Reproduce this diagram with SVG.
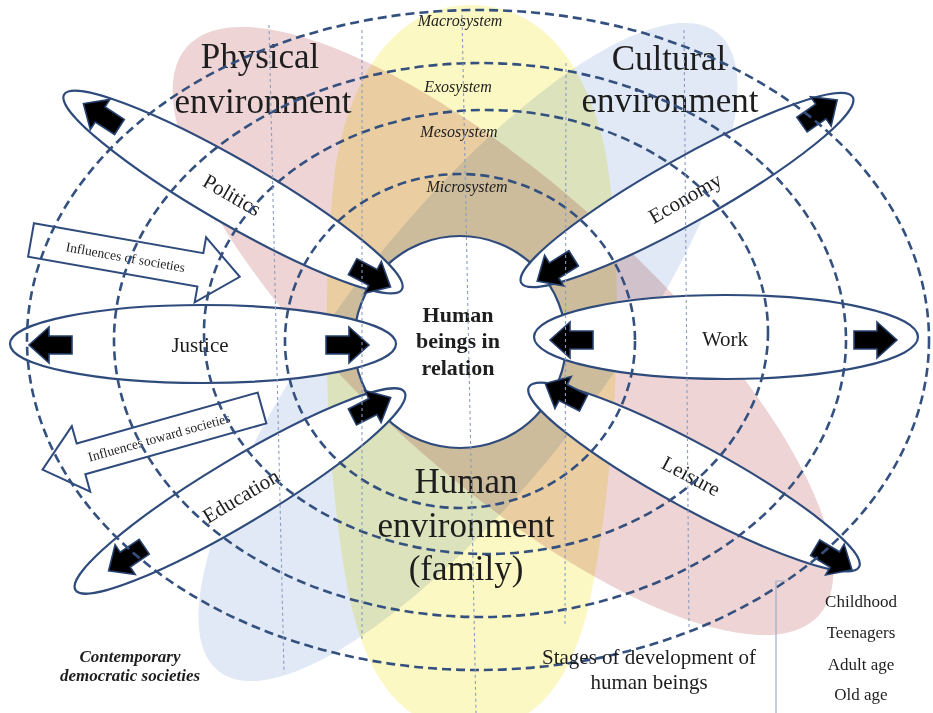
<svg xmlns="http://www.w3.org/2000/svg" width="933" height="713" viewBox="0 0 933 713">
<defs>
<style>
.blob{mix-blend-mode:multiply}
.oval{fill:#fff;stroke:#2f4b7c;stroke-width:2.2}
.sys{fill:none;stroke:#34507f;stroke-width:2.6;stroke-dasharray:9 5}
.dot{fill:none;stroke:#8a9cc0;stroke-width:1.1;stroke-dasharray:3 3}
.infl{fill:#fff;stroke:#2f4b7c;stroke-width:2}
.t{font-family:"Liberation Serif","Times New Roman",serif;fill:#1e1e1e}
.lbl{font-size:21px;text-anchor:middle}
.env{font-size:35px;text-anchor:middle}
.syslbl{font-size:16px;font-style:italic;text-anchor:middle}
.leg{font-size:17px;text-anchor:middle}
</style>
<path id="ba" d="M -22 -9 H 1 V -18 L 21 0 L 1 18 V 9 H -22 Z" fill="#000" stroke="#27426f" stroke-width="1.6"/>
</defs>
<rect width="933" height="713" fill="#fff"/>
<g id="environments" style="isolation:isolate">
<ellipse class="blob" cx="503" cy="331" rx="425" ry="145" transform="rotate(42 503 331)" fill="#eed4d4"/>
<path class="blob" d="M 470 5 C 540 5 585 60 605 150 C 625 260 620 450 590 600 C 570 690 530 730 470 730 C 410 730 370 690 350 600 C 325 480 320 300 335 170 C 350 70 400 5 470 5 Z" fill="#fbf8c3"/>
<ellipse class="blob" cx="468" cy="352" rx="405" ry="130" transform="rotate(-52 468 352)" fill="#e0e9f5"/>
</g>
<g id="center">
<circle cx="460" cy="342" r="106" class="oval"/>
<text class="t" x="458" y="322" font-size="22" font-weight="bold" text-anchor="middle">Human</text>
<text class="t" x="458" y="348" font-size="22" font-weight="bold" text-anchor="middle">beings in</text>
<text class="t" x="458" y="375" font-size="22" font-weight="bold" text-anchor="middle">relation</text>
</g>
<g id="politics">
<ellipse cx="233" cy="192" rx="195" ry="32" transform="rotate(30 233 192)" class="oval"/>
<use href="#ba" transform="translate(101 115) rotate(213)"/>
<use href="#ba" transform="translate(372 277) rotate(28)"/>
<text class="t lbl" transform="translate(232 195) rotate(30)" y="7">Politics</text>
</g>
<g id="justice">
<ellipse cx="203" cy="344" rx="193" ry="39" class="oval"/>
<use href="#ba" transform="translate(50 345) rotate(180)"/>
<use href="#ba" transform="translate(348 345)"/>
<text class="t lbl" x="200" y="352">Justice</text>
</g>
<g id="education">
<ellipse cx="240" cy="491" rx="192" ry="32" transform="rotate(-31 240 491)" class="oval"/>
<use href="#ba" transform="translate(126 559) rotate(146)"/>
<use href="#ba" transform="translate(372 407) rotate(-27)"/>
<text class="t lbl" transform="translate(241 496) rotate(-31)" y="7">Education</text>
</g>
<g id="economy">
<ellipse cx="687" cy="190" rx="190" ry="32" transform="rotate(-29.3 687 190)" class="oval"/>
<use href="#ba" transform="translate(820 112) rotate(-35)"/>
<use href="#ba" transform="translate(555 270) rotate(148)"/>
<text class="t lbl" transform="translate(685 198) rotate(-30)" y="7">Economy</text>
</g>
<g id="work">
<ellipse cx="726" cy="337" rx="192" ry="42" class="oval"/>
<use href="#ba" transform="translate(571 340) rotate(180)"/>
<use href="#ba" transform="translate(876 340)"/>
<text class="t lbl" x="725" y="346">Work</text>
</g>
<g id="leisure">
<ellipse cx="694" cy="477" rx="188" ry="32" transform="rotate(28.6 694 477)" class="oval"/>
<use href="#ba" transform="translate(564 393) rotate(207)"/>
<use href="#ba" transform="translate(834 559) rotate(31)"/>
<text class="t lbl" transform="translate(691 476) rotate(28)" y="7">Leisure</text>
</g>
<g id="influences-of" transform="translate(31 240) rotate(10)">
<path class="infl" d="M0 -17 H172 V-33 L212 0 L172 33 V17 H0 Z"/>
<text class="t" x="96" y="5" font-size="13.5" text-anchor="middle">Influences of societies</text>
</g>
<g id="influences-toward" transform="translate(262 408) rotate(-15.7)">
<path class="infl" d="M0 -16 H-188 V-34 L-228 0 L-188 34 V16 H0 Z"/>
<text class="t" x="-107" y="5" font-size="13.5" text-anchor="middle">Influences toward societies</text>
</g>
<g id="env-labels">
<text class="t env" x="260" y="68">Physical</text>
<text class="t env" x="263" y="113">environment</text>
<text class="t env" x="669" y="70">Cultural</text>
<text class="t env" x="670" y="112">environment</text>
<text class="t env" x="466" y="493">Human</text>
<text class="t env" x="466" y="537">environment</text>
<text class="t env" x="466" y="580">(family)</text>
</g>
<g id="system-labels">
<text class="t syslbl" x="460" y="26">Macrosystem</text>
<text class="t syslbl" x="458" y="92">Exosystem</text>
<text class="t syslbl" x="459" y="137">Mesosystem</text>
<text class="t syslbl" x="467" y="192">Microsystem</text>
</g>
<g id="connectors">
<ellipse class="sys" cx="478" cy="340" rx="451" ry="330"/>
<ellipse class="sys" cx="480" cy="340" rx="366" ry="277"/>
<ellipse class="sys" cx="486" cy="332" rx="282" ry="222"/>
<ellipse class="sys" cx="460" cy="341" rx="175" ry="167"/>
<path class="dot" d="M269 25 L284 673"/>
<path class="dot" d="M362 30 L362 642"/>
<path class="dot" d="M462 15 L476 713"/>
<path class="dot" d="M566 63 L565 625"/>
<path class="dot" d="M684 30 L689 627"/>
</g>
<g id="societies">
<text class="t" x="130" y="662" font-size="17" font-weight="bold" font-style="italic" text-anchor="middle">Contemporary</text>
<text class="t" x="130" y="681" font-size="17" font-weight="bold" font-style="italic" text-anchor="middle">democratic societies</text>
</g>
<g id="stages">
<text class="t" x="649" y="664" font-size="21" text-anchor="middle">Stages of development of</text>
<text class="t" x="649" y="689" font-size="21" text-anchor="middle">human beings</text>
<path d="M787 581 H776 V713" fill="none" stroke="#a0aec8" stroke-width="1.2"/>
<text class="t leg" x="861" y="607">Childhood</text>
<text class="t leg" x="861" y="638">Teenagers</text>
<text class="t leg" x="861" y="670">Adult age</text>
<text class="t leg" x="861" y="700">Old age</text>
</g>
</svg>
